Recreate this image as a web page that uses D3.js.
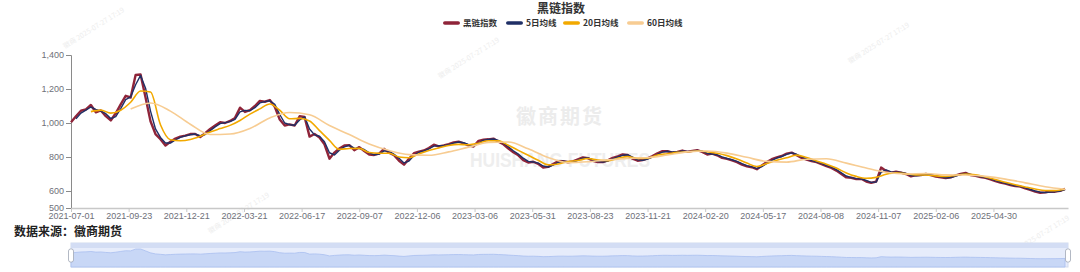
<!DOCTYPE html>
<html>
<head>
<meta charset="utf-8">
<script src="https://cdn.jsdelivr.net/npm/d3@7"></script>
<style>
  body { margin: 0; background: #fff; }
  svg text { font-family: "Liberation Sans", "Noto Sans CJK SC", sans-serif; }
  .cjk { font-family: "Noto Sans CJK SC", sans-serif; }
</style>
</head>
<body>
<div id="chart"></div>
<script>
// 黑链指数 daily close, read every 5 trading days from 2021-07-01
var rawIndex = [1005,1040,1072,1080,1106,1063,1074,1040,1015,1057,
  1110,1160,1150,1282,1285,1150,1010,935,905,868,
  890,908,920,926,935,935,918,940,965,985,
  1005,1000,1012,1030,1090,1065,1076,1100,1130,1125,
  1135,1095,1020,985,992,985,1040,1035,920,935,
  915,875,790,826,850,868,870,840,858,835,
  815,812,820,848,825,810,778,755,790,822,
  832,838,853,872,862,868,876,886,890,880,
  868,862,895,902,904,908,890,875,850,828,
  810,782,768,772,760,738,742,758,775,776,
  769,774,786,798,793,778,770,770,780,795,
  804,815,812,790,778,782,792,805,822,834,
  834,826,830,838,830,836,840,830,815,820,
  810,795,789,780,770,755,745,740,728,750,
  770,787,798,806,820,826,810,795,785,776,
  770,758,746,736,720,700,680,678,670,672,
  656,648,655,738,718,708,713,708,700,686,
  693,694,700,694,685,681,676,680,692,700,
  706,694,689,682,677,668,658,650,643,635,
  629,626,616,606,596,590,592,596,596,601,
  612];

// 5日均线, from day 5, every 5 days
var ma5 = [1025,1058,1076,1094,1080,1070,1055,1026,1038,
  1085,1138,1153,1225,1280,1205,1070,965,915,882,
  882,900,915,924,931,935,925,932,955,977,
  996,1002,1008,1022,1065,1074,1072,1090,1118,1126,
  1131,1110,1050,1000,990,987,1018,1036,965,930,
  922,890,825,812,840,860,869,852,850,844,
  824,813,817,836,834,816,792,765,776,808,
  828,836,847,864,866,866,873,882,888,884,
  873,864,882,899,903,906,897,881,860,837,
  817,793,774,771,764,747,741,752,768,776,
  772,772,781,793,795,784,773,770,776,789,
  800,810,813,799,783,780,788,800,815,829,
  834,829,829,835,833,834,838,834,821,818,
  813,801,791,784,774,761,749,742,732,743,
  762,780,794,803,815,824,816,801,789,779,
  772,762,750,740,726,707,688,679,673,671,
  662,651,653,710,724,712,711,709,703,691,
  690,693,698,696,688,683,678,679,688,697,
  704,698,691,685,679,671,661,653,645,638,
  631,627,619,609,600,593,591,594,596,600,
  609];

// 20日均线, from day 20, every 10 days
var ma20 = [1067,1076,1058,1075,1122,1188,1182,990,902,896,
  903,922,947,967,986,1015,1052,1083,1112,1075,
  1025,1027,1012,955,898,845,850,851,826,822,
  822,800,796,818,838,853,868,874,872,881,
  896,895,869,839,810,781,754,759,773,779,
  791,782,778,792,802,792,793,812,819,827,
  831,835,831,822,808,788,764,744,762,781,
  796,811,797,777,758,735,706,686,675,680,
  698,707,701,695,694,689,685,692,700,695,
  682,667,651,637,624,612,603,602,610];

// 60日均线, from day 60, every 20 days
var ma60 = [1082,1118,1070,993,932,935,968,1030,1062,1048,
  985,932,876,838,814,810,830,858,885,888,
  848,797,767,772,783,792,796,812,830,835,
  823,798,774,770,787,790,764,735,710,700,
  703,695,694,686,670,648,625,610];

var xLabels = ["2021-07-01","2021-09-23","2021-12-21","2022-03-21","2022-06-17",
  "2022-09-07","2022-12-06","2023-03-06","2023-05-31","2023-08-23","2023-11-21",
  "2024-02-20","2024-05-17","2024-08-08","2024-11-07","2025-02-06","2025-04-30"];
var yTicks = [500, 600, 800, 1000, 1200, 1400];

var seriesNames = ["黑链指数", "5日均线", "20日均线", "60日均线"];
var seriesColors = ["#8f2439", "#1f2f66", "#f2a900", "#f7cc92"];

var LAST_DAY = 1003, LABEL_EVERY = 58;

var width = 1080, height = 272;
var svg = d3.select("#chart").append("svg")
    .attr("width", width)
    .attr("height", height);

var x = d3.scaleLinear().domain([0, LAST_DAY]).range([71, 1068]);
var y = d3.scaleLinear().domain([500, 1400]).range([208, 55]);

function pts(values, start, step) {
  return values.map(function(v, i) { return { day: start + i * step, v: v }; });
}
var rawPts = pts(rawIndex, 0, 5),
    ma5Pts = pts(ma5, 5, 5),
    ma20Pts = pts(ma20, 20, 10),
    ma60Pts = pts(ma60, 60, 20);

// watermarks
svg.append("text").attr("class", "cjk")
    .attr("x", 560).attr("y", 124)
    .attr("text-anchor", "middle")
    .style("font-size", "20px").style("font-weight", "bold")
    .style("letter-spacing", "2px")
    .attr("fill", "#ececec")
    .text("徽商期货");
svg.append("text")
    .attr("x", 560).attr("y", 167)
    .attr("text-anchor", "middle")
    .attr("textLength", 180).attr("lengthAdjust", "spacingAndGlyphs")
    .style("font-size", "20px").style("font-weight", "bold")
    .attr("fill", "#eeeeee")
    .text("HUISHANG FUTURES");

var marks = [[95, 30], [470, 60], [880, 45], [240, 215], [1040, 238]];
marks.forEach(function(m) {
  svg.append("text").attr("class", "cjk")
      .attr("transform", "translate(" + m[0] + "," + m[1] + ") rotate(-32)")
      .attr("text-anchor", "middle")
      .style("font-size", "7px")
      .attr("fill", "#ededed")
      .text("徽商  2025-07-27  17:19");
});

// axes
var yAxis = d3.axisLeft(y).tickValues(yTicks).tickSize(5).tickPadding(2)
    .tickFormat(d3.format(","));
var gy = svg.append("g").attr("transform", "translate(71,0)").call(yAxis);
gy.select(".domain").attr("stroke", "#8a8a8a");
gy.selectAll(".tick line").attr("stroke", "#8a8a8a");
gy.selectAll("text").attr("fill", "#6e7079").style("font-size", "9px");

var xAxis = d3.axisBottom(x)
    .tickValues(xLabels.map(function(d, i) { return i * LABEL_EVERY; }))
    .tickFormat(function(d, i) { return xLabels[i]; })
    .tickSize(4).tickSizeOuter(0).tickPadding(1);
var gx = svg.append("g").attr("transform", "translate(0,208)").call(xAxis);
gx.select(".domain").attr("stroke", "#c8c8c8").attr("stroke-width", 1.5);
gx.selectAll(".tick line").attr("stroke", "#c8c8c8");
gx.selectAll("text").attr("fill", "#6e7079").style("font-size", "9px");

// lines
var line = d3.line()
    .x(function(d) { return x(d.day); })
    .y(function(d) { return y(d.v); });
var smooth = d3.line()
    .curve(d3.curveMonotoneX)
    .x(function(d) { return x(d.day); })
    .y(function(d) { return y(d.v); });

svg.append("path").datum(rawPts)
    .attr("d", line).attr("fill", "none")
    .attr("stroke", seriesColors[0]).attr("stroke-width", 2.4)
    .attr("stroke-linejoin", "round");
svg.append("path").datum(ma5Pts)
    .attr("d", line).attr("fill", "none")
    .attr("stroke", seriesColors[1]).attr("stroke-width", 1.4)
    .attr("stroke-linejoin", "round");
svg.append("path").datum(ma20Pts)
    .attr("d", smooth).attr("fill", "none")
    .attr("stroke", seriesColors[2]).attr("stroke-width", 1.6);
svg.append("path").datum(ma60Pts)
    .attr("d", smooth).attr("fill", "none")
    .attr("stroke", seriesColors[3]).attr("stroke-width", 1.6);

// title + legend
svg.append("text").attr("class", "cjk")
    .attr("x", 561).attr("y", 13)
    .attr("text-anchor", "middle")
    .style("font-size", "12px").style("font-weight", "bold")
    .attr("fill", "#333")
    .text("黑链指数");

var legendX = [443, 506, 563, 627];
seriesNames.forEach(function(name, i) {
  var g = svg.append("g").attr("transform", "translate(" + legendX[i] + ",23)");
  g.append("rect").attr("x", 0).attr("y", -1.8)
      .attr("width", 17).attr("height", 3.6).attr("rx", 1.8)
      .attr("fill", seriesColors[i]);
  g.append("text").attr("class", "cjk")
      .attr("x", 20).attr("y", 3)
      .style("font-size", "8.5px").style("font-weight", "bold")
      .attr("fill", "#333")
      .text(name);
});

// source note
svg.append("text").attr("class", "cjk")
    .attr("x", 14).attr("y", 236)
    .style("font-size", "12px").style("font-weight", "bold")
    .attr("fill", "#222")
    .text("数据来源：徽商期货");

// data zoom slider
var sx0 = 71, sx1 = 1068, sTop = 243, sBot = 267;
svg.append("rect")
    .attr("x", sx0).attr("y", sTop).attr("width", sx1 - sx0).attr("height", sBot - sTop)
    .attr("fill", "#e6ecfb").attr("stroke", "#d2dbee");
svg.append("rect")
    .attr("x", sx0).attr("y", sTop).attr("width", sx1 - sx0).attr("height", 5)
    .attr("fill", "#d3ddf4");
var sy = d3.scaleLinear().domain([0, d3.max(rawIndex)]).range([sBot, sTop + 6]);
var area = d3.area()
    .x(function(d) { return x(d.day); })
    .y0(sBot)
    .y1(function(d) { return sy(d.v); });
svg.append("path").datum(rawPts)
    .attr("d", area).attr("fill", "#c8d7f6")
    .attr("stroke", "#a9bff0").attr("stroke-width", 0.8);
[sx0, sx1].forEach(function(hx) {
  svg.append("rect")
      .attr("x", hx - 2.5).attr("y", 249).attr("width", 5).attr("height", 13)
      .attr("rx", 2)
      .attr("fill", "#fff").attr("stroke", "#a0a7b5").attr("stroke-width", 0.8);
});
</script>
</body>
</html>
